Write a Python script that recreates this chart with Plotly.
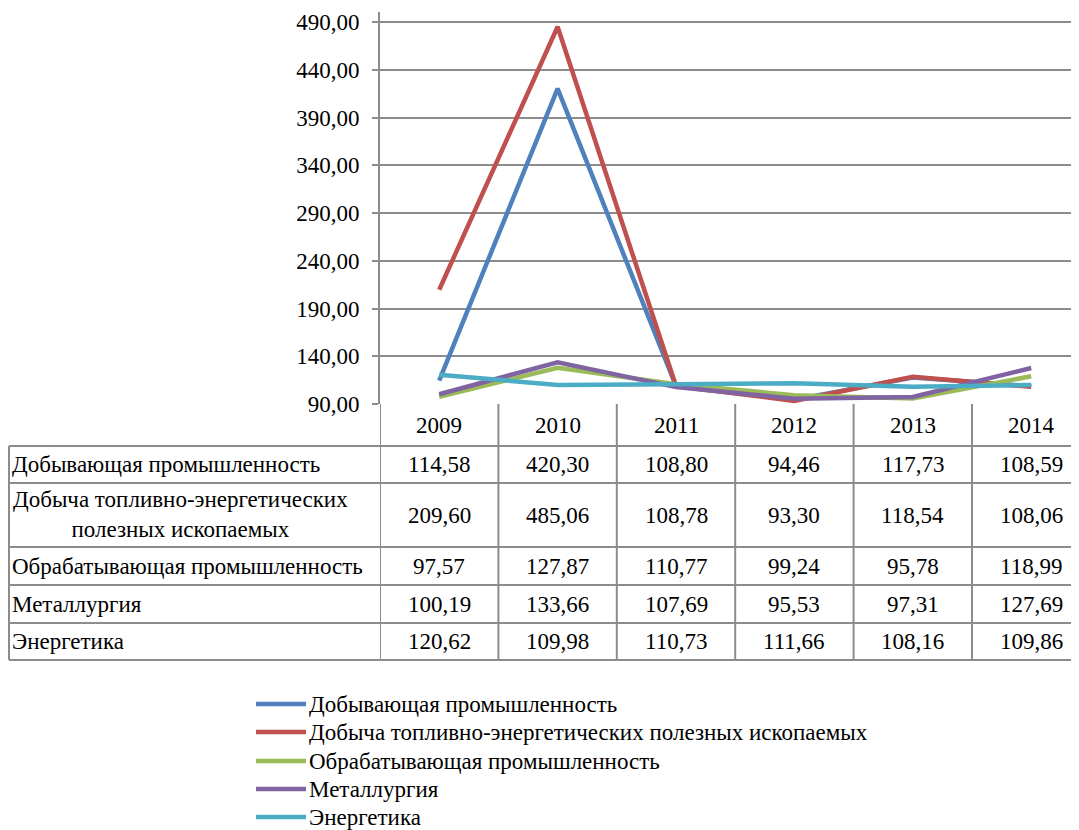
import plotly.graph_objects as go

# ---------------- data ----------------
years = ["2009", "2010", "2011", "2012", "2013", "2014"]
series_names = [
    "Добывающая промышленность",
    "Добыча топливно-энергетических полезных ископаемых",
    "Обрабатывающая промышленность",
    "Металлургия",
    "Энергетика",
]
table_labels = [
    "Добывающая промышленность",
    "Добыча топливно-энергетических<br>полезных ископаемых",
    "Обрабатывающая промышленность",
    "Металлургия",
    "Энергетика",
]
dobyv = [114.58, 420.30, 108.80, 94.46, 117.73, 108.59]
toplivo = [209.60, 485.06, 108.78, 93.30, 118.54, 108.06]
obrab = [97.57, 127.87, 110.77, 99.24, 95.78, 118.99]
metall = [100.19, 133.66, 107.69, 95.53, 97.31, 127.69]
energ = [120.62, 109.98, 110.73, 111.66, 108.16, 109.86]
series_values = [dobyv, toplivo, obrab, metall, energ]
y_ticks = [90, 140, 190, 240, 290, 340, 390, 440, 490]

colors = ["#4F81BD", "#C0504D", "#9BBB59", "#8064A2", "#4BACC6"]

# ---------------- layout helpers ----------------
PAGE_W, PAGE_H = 1079, 830
OFF = 8  # default body margin of the page
W, H = PAGE_W - OFF, PAGE_H - OFF
FONT = "Liberation Serif"
FS = 23
GRID = "#8c8c8c"


def px(x):
    return (x - OFF) / W


def py(y):
    return 1 - (y - OFF) / H


def fmt(v):
    return f"{v:.2f}".replace(".", ",")


plot_left, plot_top, plot_bottom = 380, 12, 404
col_w = 118.4
x_span = (PAGE_W - plot_left) / col_w

fig = go.Figure()
for name, vals, c in zip(series_names, series_values, colors):
    fig.add_trace(go.Scatter(
        x=list(range(len(years))), y=vals, name=name, mode="lines",
        line=dict(color=c, width=4.5), showlegend=False,
        hovertemplate="%{y:.2f}<extra>" + name + "</extra>",
    ))

shapes = []
annotations = []

row_lines = [446, 483, 547, 585, 623, 660]
table_left = 9
bottom = row_lines[-1]

for yl in row_lines:
    shapes.append(dict(type="line", xref="paper", yref="paper",
                       x0=px(table_left), x1=1, y0=py(yl), y1=py(yl),
                       line=dict(color=GRID, width=2)))
shapes.append(dict(type="line", xref="paper", yref="paper",
                   x0=px(table_left), x1=px(table_left), y0=py(row_lines[0]), y1=py(bottom),
                   line=dict(color=GRID, width=2)))
for i in range(len(years)):
    shapes.append(dict(type="line", xref="x", yref="paper",
                       x0=i - 0.5, x1=i - 0.5, y0=py(plot_bottom), y1=py(bottom),
                       line=dict(color=GRID, width=2)))

for i, yr in enumerate(years):
    annotations.append(dict(x=i, y=py(425), xref="x", yref="paper", text=yr,
                            showarrow=False, xanchor="center", yanchor="middle",
                            font=dict(family=FONT, size=FS, color="black")))

row_centers = [(row_lines[k] + row_lines[k + 1]) / 2 for k in range(len(row_lines) - 1)]
for lab, vals, yc in zip(table_labels, series_values, row_centers):
    if "<br>" in lab:
        annotations.append(dict(x=px(180), y=py(yc - 1), xref="paper", yref="paper", text=lab,
                                showarrow=False, xanchor="center", yanchor="middle", align="center",
                                font=dict(family=FONT, size=FS, color="black")))
    else:
        annotations.append(dict(x=px(10), y=py(yc), xref="paper", yref="paper", text=lab,
                                showarrow=False, xanchor="left", yanchor="middle", align="left",
                                font=dict(family=FONT, size=FS, color="black")))
    for i, v in enumerate(vals):
        annotations.append(dict(x=i, y=py(yc), xref="x", yref="paper", text=fmt(v),
                                showarrow=False, xanchor="center", yanchor="middle",
                                font=dict(family=FONT, size=FS, color="black")))

leg_y = [704, 732, 761, 789, 817]
for name, c, yl in zip(series_names, colors, leg_y):
    shapes.append(dict(type="line", xref="paper", yref="paper",
                       x0=px(256), x1=px(306), y0=py(yl), y1=py(yl),
                       line=dict(color=c, width=4.5)))
    annotations.append(dict(x=px(307), y=py(yl), xref="paper", yref="paper", text=name,
                            showarrow=False, xanchor="left", yanchor="middle",
                            font=dict(family=FONT, size=FS, color="black")))

fig.update_layout(
    template="none",
    width=W, height=H,
    margin=dict(l=0, r=0, t=0, b=0),
    paper_bgcolor="white", plot_bgcolor="white",
    separators=", ",
    showlegend=False,
    font=dict(family=FONT, size=FS, color="black"),
    shapes=shapes,
    annotations=annotations,
    xaxis=dict(
        domain=[px(plot_left), 1],
        range=[-0.5, -0.5 + x_span],
        showgrid=False, zeroline=False,
        showticklabels=False, ticks="",
        showline=False, automargin=False,
        fixedrange=True,
    ),
    yaxis=dict(
        domain=[py(plot_bottom), py(plot_top)],
        range=[90, 90 + (plot_bottom - plot_top) / ((plot_bottom - 22) / 400)],
        tickvals=y_ticks,
        tickformat=".2f",
        showgrid=True, gridcolor=GRID, gridwidth=2,
        zeroline=False,
        showline=True, linecolor=GRID, linewidth=2,
        ticks="outside", ticklen=6, tickcolor=GRID, tickwidth=2,
        ticklabelstandoff=8,
        tickfont=dict(family=FONT, size=FS, color="black"),
        automargin=False,
        fixedrange=True,
    ),
)

fig.write_html("out.html")
